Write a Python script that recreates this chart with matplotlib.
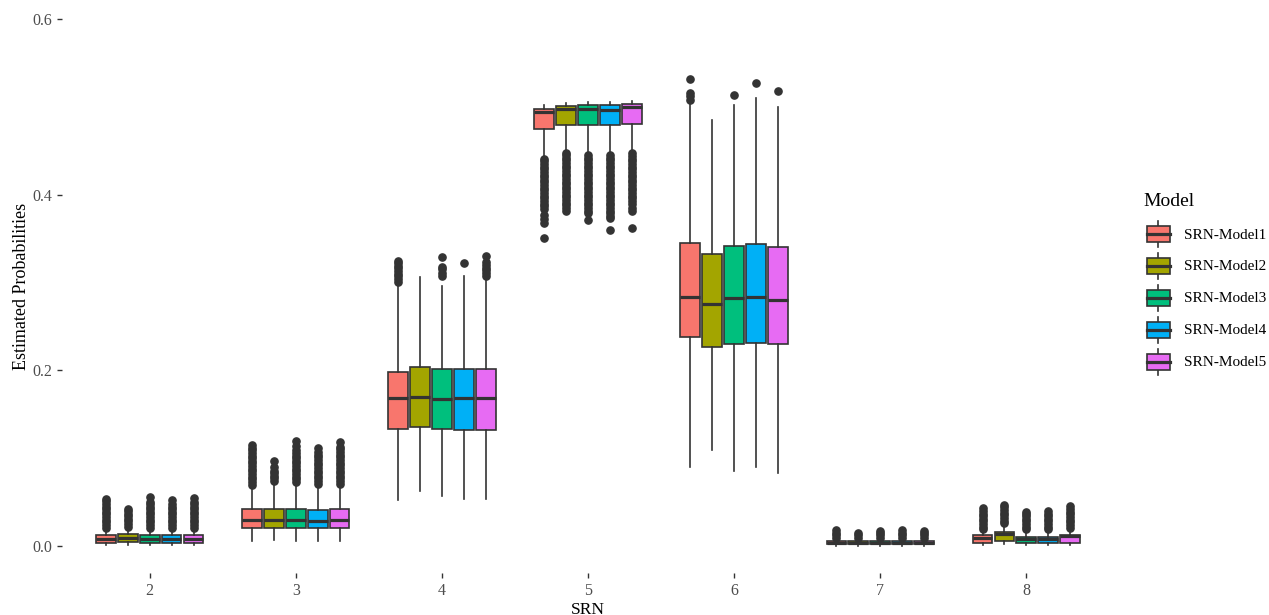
import matplotlib
matplotlib.use('Agg')
import numpy as np
from matplotlib import pyplot as plt
from matplotlib.patches import Patch, Rectangle
from matplotlib.lines import Line2D
from matplotlib.legend_handler import HandlerBase

plt.rcParams['font.family'] = ['Liberation Serif', 'DejaVu Serif']

srn = ['2', '3', '4', '5', '6', '7', '8']
models = ['SRN-Model1', 'SRN-Model2', 'SRN-Model3', 'SRN-Model4', 'SRN-Model5']
colors = ['#F8766D', '#A3A500', '#00BF7D', '#00B0F6', '#E76BF3']

# rows = SRN 2..8, columns = Model1..Model5
q1 = [[.004, .005, .004, .004, .004],
      [.021, .021, .021, .020, .021],
      [.133, .136, .133, .132, .132],
      [.475, .479, .479, .479, .480],
      [.238, .227, .230, .231, .230],
      [.002, .002, .002, .002, .002],
      [.004, .006, .003, .003, .004]]
med = [[.008, .009, .008, .008, .008],
       [.030, .030, .030, .029, .030],
       [.169, .170, .167, .168, .168],
       [.494, .4975, .498, .497, .500],
       [.283, .276, .282, .283, .280],
       [.0035, .0035, .0035, .0035, .0035],
       [.0087, .0133, .008, .0076, .0114]]
q3 = [[.013, .014, .013, .013, .013],
      [.042, .042, .042, .041, .042],
      [.198, .204, .2015, .202, .201],
      [.498, .501, .502, .502, .503],
      [.3446, .3325, .342, .344, .340],
      [.0055, .0055, .0055, .0055, .0055],
      [.0125, .0163, .0106, .0106, .0125]]
lo = [[.001, .001, .001, .001, .001],
      [.006, .007, .006, .006, .006],
      [.052, .063, .057, .053, .053],
      [.443, .450, .447, .447, .449],
      [.090, .109, .0857, .090, .083],
      [.000, .000, .000, .000, .000],
      [.001, .002, .001, .001, .001]]
hi = [[.019, .020, .019, .019, .019],
      [.068, .072, .071, .069, .069],
      [.299, .306, .296, .308, .304],
      [.502, .504, .505, .505, .507],
      [.503, .485, .502, .510, .500],
      [.008, .008, .008, .008, .008],
      [.017, .024, .017, .017, .018]]
outliers = [
    [[.021, .024, .027, .030, .033, .036, .039, .042, .045, .048, .051, .053],
     [.022, .025, .028, .031, .034, .037, .040, .042],
     [.021, .024, .027, .030, .033, .036, .039, .042, .045, .048, .050, .056],
     [.021, .024, .027, .030, .033, .036, .039, .042, .045, .048, .052],
     [.021, .024, .027, .030, .033, .036, .039, .042, .045, .048, .050, .055]],
    [[.070, .073, .076, .079, .082, .085, .088, .091, .094, .097, .100, .103, .106, .109, .112, .115],
     [.074, .077, .080, .083, .086, .090, .097],
     [.073, .076, .079, .082, .085, .088, .091, .094, .097, .100, .103, .106, .109, .114, .120],
     [.071, .074, .077, .080, .083, .086, .089, .092, .095, .098, .101, .104, .107, .112],
     [.071, .074, .077, .080, .083, .086, .089, .092, .095, .098, .101, .104, .107, .110, .113, .119]],
    [[.301, .304, .307, .310, .313, .316, .319, .322, .325],
     [],
     [.308, .311, .315, .318, .329],
     [.322],
     [.308, .311, .314, .317, .320, .323, .330]],
    [[.441, .438, .435, .432, .429, .426, .423, .420, .417, .414, .411, .408, .405, .402,
      .399, .396, .393, .390, .387, .384, .377, .372, .368, .351],
     [.448, .445, .442, .439, .436, .433, .430, .427, .424, .421, .418, .415, .412, .409,
      .406, .403, .400, .397, .394, .391, .388, .385, .382],
     [.445, .442, .439, .436, .433, .430, .427, .424, .421, .418, .415, .412, .409, .406,
      .403, .400, .397, .394, .391, .388, .385, .382, .379, .371],
     [.445, .442, .439, .436, .433, .430, .427, .424, .421, .418, .415, .412, .409, .406,
      .403, .400, .397, .394, .391, .388, .385, .382, .379, .376, .373, .360],
     [.447, .444, .441, .438, .435, .432, .429, .426, .423, .420, .417, .414, .411, .408,
      .405, .402, .399, .396, .393, .389, .385, .381, .362]],
    [[.508, .512, .516, .532],
     [],
     [.5135],
     [.5275],
     [.518]],
    [[.009, .012, .015, .018],
     [.009, .012, .015],
     [.009, .012, .015, .017],
     [.009, .012, .015, .018],
     [.009, .012, .015, .017]],
    [[.019, .022, .025, .028, .031, .034, .037, .040, .043],
     [.026, .029, .032, .035, .038, .041, .044, .047],
     [.019, .022, .025, .028, .031, .034, .037, .039],
     [.019, .022, .025, .028, .031, .034, .037, .040],
     [.021, .024, .027, .030, .033, .036, .039, .042, .046]],
]

edge = '#333333'

fig = plt.figure(figsize=(12.69, 6.15), dpi=100)
ax = fig.add_axes([62 / 1269, 42 / 615, (1114 - 62) / 1269, 573 / 615])

dodge = 0.15
for j, m in enumerate(models):
    stats = []
    for i in range(len(srn)):
        stats.append(dict(q1=q1[i][j], med=med[i][j], q3=q3[i][j],
                          whislo=lo[i][j], whishi=hi[i][j],
                          fliers=outliers[i][j]))
    pos = np.arange(len(srn)) + (j - 2) * dodge
    ax.bxp(stats, positions=pos, widths=0.135, patch_artist=True,
           showcaps=False, manage_ticks=False,
           boxprops=dict(facecolor=colors[j], edgecolor=edge, linewidth=1.2),
           medianprops=dict(color=edge, linewidth=2.3, solid_capstyle='butt'),
           whiskerprops=dict(color=edge, linewidth=1.2),
           flierprops=dict(marker='o', markerfacecolor=edge, markeredgecolor=edge,
                           markersize=5.2, linestyle='none'))

ax.set_xlim(-0.6, 6.6)
ax.set_ylim(-0.0307, 0.6217)
ax.set_xticks(range(len(srn)))
ax.set_xticklabels(srn)
ax.set_yticks([0.0, 0.2, 0.4, 0.6])
ax.set_yticklabels(['0.0', '0.2', '0.4', '0.6'])
for s in ax.spines.values():
    s.set_visible(False)
ax.tick_params(colors=edge, labelcolor='#4D4D4D', labelsize=11.5, length=3.5, width=1)
ax.set_xlabel('SRN', fontsize=12.5, labelpad=2)
ax.set_ylabel('Estimated Probabilities', fontsize=13, labelpad=2)


class BoxKey(HandlerBase):
    def create_artists(self, legend, orig_handle, xdescent, ydescent,
                       width, height, fontsize, trans):
        x0, y0 = -xdescent, -ydescent
        cx = x0 + width / 2
        whisk = Line2D([cx, cx], [y0 + 0.1 * height, y0 + 0.9 * height],
                       color=edge, lw=1.2, transform=trans)
        box = Rectangle((x0 + 0.125 * width, y0 + 0.25 * height), 0.75 * width, 0.5 * height,
                        facecolor=orig_handle.get_facecolor(), edgecolor=edge, lw=1.2,
                        transform=trans)
        mid = Line2D([x0 + 0.125 * width, x0 + 0.875 * width], [y0 + 0.5 * height] * 2,
                     color=edge, lw=2.3, transform=trans)
        return [whisk, box, mid]


# legend title drawn on its own so the gap to the keys can be set
fig.text(1143 / 1269, 1 - 202 / 615, 'Model', fontsize=14, ha='left', va='center')
handles = [Patch(facecolor=c) for c in colors]
leg = fig.legend(handles, models, handler_map={Patch: BoxKey()},
                 loc='upper left', bbox_to_anchor=(1143 / 1269, 1 - 218 / 615),
                 frameon=False, fontsize=11,
                 handlelength=2.0, handleheight=2.84, labelspacing=0.0,
                 handletextpad=0.7, borderpad=0, borderaxespad=0)

fig.savefig('out.png', dpi=100)
